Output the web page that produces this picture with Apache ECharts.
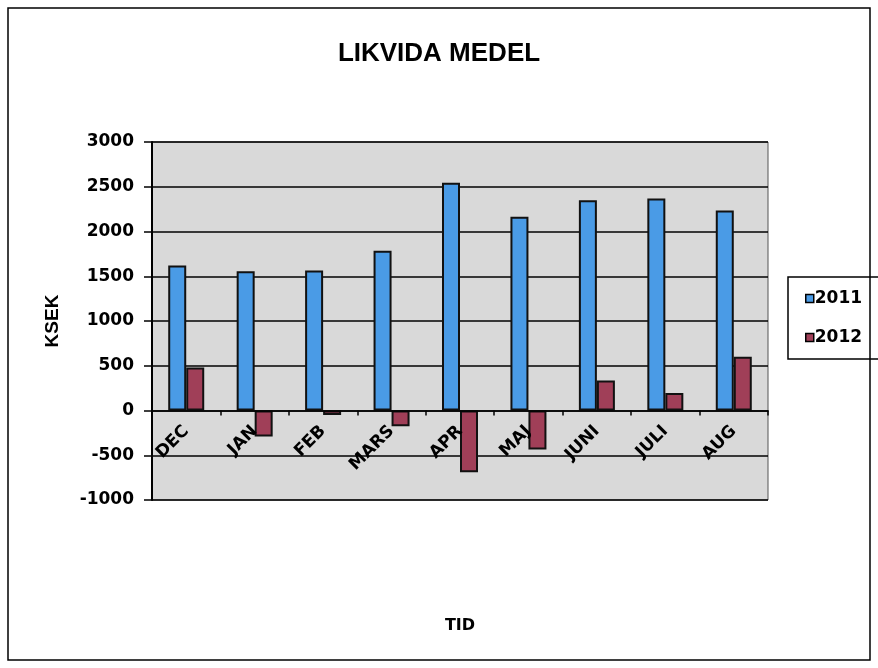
<!DOCTYPE html>
<html>
<head>
<meta charset="utf-8">
<script src="https://cdn.jsdelivr.net/npm/echarts@6/dist/echarts.min.js"></script>
<style>
  html, body { margin: 0; padding: 0; background: #fff; }
  #chart { width: 878px; height: 668px; }
</style>
</head>
<body>
<div id="chart"></div>
<script>
// månader (kategorier)
var months = ['DEC', 'JAN', 'FEB', 'MARS', 'APR', 'MAJ', 'JUNI', 'JULI', 'AUG'];
// likvida medel, KSEK
var data2011 = [1620, 1555, 1565, 1785, 2545, 2165, 2350, 2370, 2235];
var data2012 = [480, -290, -50, -175, -690, -435, 335, 195, 600];
var yTicks = [-1000, 3000, 500];

var wide = {
    fontFamily: 'DejaVu Sans',
    fontWeight: 'bold',
    color: '#000'
};
var narrow = {
    fontFamily: 'Liberation Sans, Arial',
    fontWeight: 'bold',
    color: '#000'
};

var gridTop = 142, gridBottom = 168, gridH = 668 - gridTop - gridBottom;
// x-axeln ligger på nollinjen
var zeroOffset = -gridH * (0 - yTicks[0]) / (yTicks[1] - yTicks[0]);

var chart = echarts.init(document.getElementById('chart'));
var option = {
    animation: false,
    title: {
        text: 'LIKVIDA MEDEL',
        left: 'center',
        top: 36,
        textStyle: Object.assign({fontSize: 26}, narrow)
    },
    legend: {
        orient: 'vertical',
        left: 788,
        top: 277,
        padding: [13, 22, 13, 17],
        itemWidth: 8,
        itemHeight: 8,
        itemGap: 22,
        icon: 'rect',
        borderColor: '#000',
        borderWidth: 1.5,
        itemStyle: {borderColor: '#000', borderWidth: 1.5},
        textStyle: Object.assign({fontSize: 17, padding: [0, 0, 0, -4]}, wide),
        data: ['2011', '2012']
    },
    graphic: [{
        type: 'rect',
        shape: {x: 8, y: 8, width: 862, height: 652},
        style: {fill: 'none', stroke: '#000', lineWidth: 1.5},
        silent: true
    }],
    grid: {
        left: 152,
        right: 110,
        top: gridTop,
        bottom: gridBottom,
        outerBoundsMode: 'none',
        containLabel: false,
        show: true,
        backgroundColor: '#d9d9d9',
        borderColor: '#555',
        borderWidth: 1
    },
    xAxis: {
        type: 'category',
        data: months,
        position: 'bottom',
        offset: zeroOffset,
        zlevel: 1,
        name: 'TID',
        nameLocation: 'middle',
        nameGap: 207,
        nameTextStyle: Object.assign({fontSize: 16}, wide),
        axisLine: {onZero: false, lineStyle: {color: '#000', width: 1.5}},
        axisTick: {show: true, length: 5, lineStyle: {color: '#000', width: 1.5}},
        axisLabel: Object.assign({rotate: 45, fontSize: 17, margin: 18}, wide),
        splitLine: {show: false}
    },
    yAxis: {
        type: 'value',
        min: yTicks[0],
        max: yTicks[1],
        interval: yTicks[2],
        name: 'KSEK',
        nameLocation: 'middle',
        nameGap: 90,
        nameRotate: 90,
        nameTextStyle: Object.assign({fontSize: 19}, narrow),
        axisLine: {show: true, lineStyle: {color: '#000', width: 2}},
        axisTick: {show: true, length: 8, lineStyle: {color: '#000', width: 1.5}},
        axisLabel: Object.assign({fontSize: 17, margin: 18, formatter: function (v) { return String(v); }}, wide),
        splitLine: {show: true, lineStyle: {color: '#000', width: 1.5}}
    },
    series: [
        {
            name: '2011',
            type: 'bar',
            data: data2011,
            barWidth: 18,
            barGap: '0%',
            itemStyle: {color: '#4a9be6', borderColor: '#111', borderWidth: 2}
        },
        {
            name: '2012',
            type: 'bar',
            data: data2012,
            barWidth: 18,
            itemStyle: {color: '#a03f58', borderColor: '#111', borderWidth: 2}
        }
    ]
};
chart.setOption(option);
</script>
</body>
</html>
